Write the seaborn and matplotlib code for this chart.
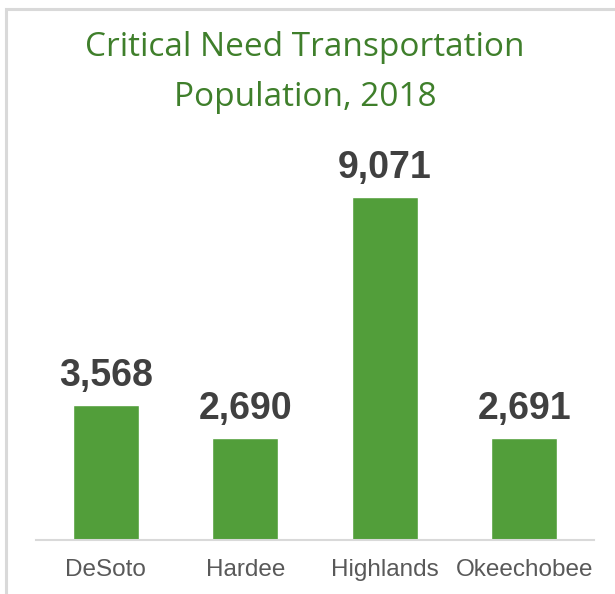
import matplotlib
matplotlib.use("Agg")
import matplotlib.pyplot as plt
import seaborn as sns
import pandas as pd
from matplotlib.patches import Rectangle

counties = ["DeSoto", "Hardee", "Highlands", "Okeechobee"]
population = [3568, 2690, 9071, 2691]
title_lines = ["Critical Need Transportation", "Population, 2018"]

sns.set_style("white")
plt.rcParams['font.family'] = ['Liberation Sans', 'DejaVu Sans']

W, H = 615, 594
fig = plt.figure(figsize=(W/100, H/100), dpi=100)
fig.patch.set_facecolor("white")

# outer frame
fig.patches.append(Rectangle((6/W, -0.05), 1.2, (H-9)/H + 0.05, transform=fig.transFigure,
                             fill=False, edgecolor="#D9D9D9", linewidth=2.2, zorder=0))

ax_left, ax_right = 36/W, 594/W
ax_bottom, ax_top = (H-540)/H, (H-150)/H
ax = fig.add_axes([ax_left, ax_bottom, ax_right-ax_left, ax_top-ax_bottom])
ax.set_facecolor("none")

df = pd.DataFrame({"county": counties, "pop": population})
sns.barplot(data=df, x="county", y="pop", color="#529E3A", saturation=1, width=0.47, ax=ax)

ax.set_xlim(-0.5, 3.5)
ax.set_ylim(0, 390/0.0378)
for s in ["top", "right", "left"]:
    ax.spines[s].set_visible(False)
ax.spines["bottom"].set_color("#D9D9D9")
ax.spines["bottom"].set_linewidth(1.5)
ax.set_yticks([])
ax.set_xlabel("")
ax.set_ylabel("")
ax.tick_params(axis="x", length=0, pad=14, labelsize=17.5, labelcolor="#595959")

for i, v in enumerate(population):
    ax.annotate(f"{v:,}", (i, v), xytext=(0, 8), textcoords="offset points",
                ha="center", va="bottom", fontsize=27, fontweight="bold", color="#404040")

fig.text(305/W, 1 - 48/H, title_lines[0], ha="center", va="center", fontsize=24,
         color="#3F7F2B", family=["Open Sans", "DejaVu Sans"])
fig.text(305/W, 1 - 97/H, title_lines[1], ha="center", va="center", fontsize=24,
         color="#3F7F2B", family=["Open Sans", "DejaVu Sans"])

fig.savefig("out.png", dpi=100)
